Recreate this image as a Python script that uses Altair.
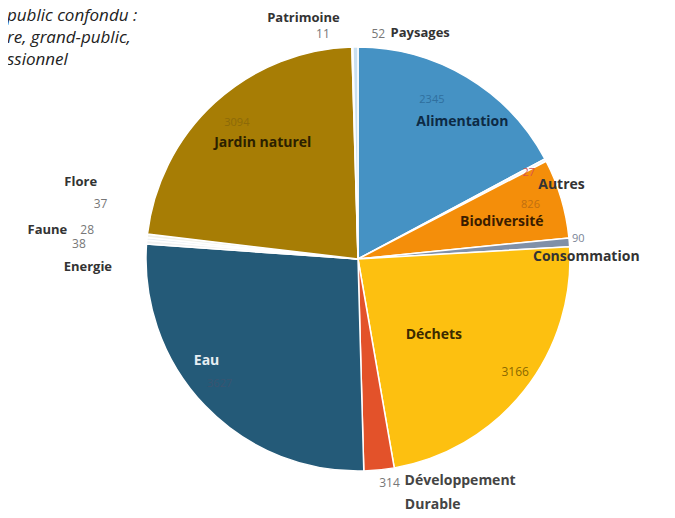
import math
import altair as alt
import pandas as pd

# ---- data ----
categories = ["Alimentation", "Autres", "Biodiversité", "Consommation", "Déchets",
              "Développement Durable", "Eau", "Energie", "Faune", "Flore",
              "Jardin naturel", "Patrimoine", "Paysages"]
values = [2345, 27, 826, 90, 3166, 314, 3627, 38, 28, 37, 3094, 11, 52]
slice_colors = ["#4592c4", "#eef3f8", "#f48e0a", "#8090a8", "#fdc010",
                "#e3522a", "#245a78", "#f2f2f2", "#e9eef3", "#f1f1ea",
                "#a77d05", "#f4f6f8", "#c9dff0"]
title_lines = ["public confondu :", "re, grand-public,", "ssionnel"]

df = pd.DataFrame({"cat": categories, "value": values, "idx": list(range(len(values)))})
total = sum(values)

CX, CY, R = 350, 251, 212
FONT = "Open Sans"

theta_scale = alt.Scale(domain=[0, total], range=[0, 2 * math.pi])

base = (alt.Chart(df)
        .transform_window(cum="sum(value)", sort=[alt.SortField("idx")])
        .transform_calculate(start="datum.cum - datum.value",
                             mid="datum.cum - datum.value / 2"))

arcs = base.mark_arc(outerRadius=R, stroke="white", strokeWidth=1.5).encode(
    theta=alt.Theta("start:Q", scale=theta_scale, stack=False),
    theta2="cum:Q",
    color=alt.Color("cat:N", scale=alt.Scale(domain=categories, range=slice_colors), legend=None),
    order=alt.Order("idx:Q"),
    x=alt.value(CX), y=alt.value(CY),
)

# label layout: (category, text expression, radius, dx, dy, align, color, size, weight)
NAME, VAL = "datum.cat", "'' + datum.value"
labels = [
    ("Jardin naturel", NAME, 150, 6, -5, "center", "#2b2000", 14, "bold"),
    ("Jardin naturel", VAL, 181, 1, -2, "center", "#8c6a08", 11, "normal"),
    ("Alimentation", NAME, 172, 16, 11, "center", "#0d2a45", 14, "bold"),
    ("Alimentation", VAL, 175, -16, -9, "center", "#2f6f9e", 11, "normal"),
    ("Autres", NAME, 212, 16, 25, "center", "#333333", 14, "bold"),
    ("Autres", VAL, 193, 0, 4, "center", "#d9534f", 11, "normal"),
    ("Biodiversité", NAME, 149, 1, 6, "center", "#3a1c00", 14, "bold"),
    ("Biodiversité", VAL, 180, 0, -3, "center", "#c06f10", 11, "normal"),
    ("Consommation", NAME, 228, 1, 16, "center", "#333333", 14, "bold"),
    ("Consommation", VAL, 221, 0, -3, "center", "#7a8496", 11, "normal"),
    ("Déchets", NAME, 107, -8, 10, "center", "#3b2a00", 14, "bold"),
    ("Déchets", VAL, 193, 6, -7, "center", "#8a6800", 12, "normal"),
    ("Développement Durable", "split(datum.cat, ' ')[0]", 227, 24, -4, "left", "#444444", 14, "bold"),
    ("Développement Durable", "split(datum.cat, ' ')[1]", 250, 22, -3, "left", "#444444", 14, "bold"),
    ("Développement Durable", VAL, 226, 9, -1, "center", "#777777", 12, "normal"),
    ("Eau", NAME, 182, -20, -24, "center", "#e6eef3", 14, "bold"),
    ("Eau", VAL, 186, -4, -4, "center", "#3a5470", 11, "normal"),
    ("Energie", NAME, 270, -1, 29, "center", "#333333", 13, "bold"),
    ("Energie", VAL, 279, -1, 7, "center", "#777777", 12, "normal"),
    ("Faune", NAME, 312, 0, 0, "center", "#333333", 13, "bold"),
    ("Faune", VAL, 273, 1, -3, "center", "#777777", 12, "normal"),
    ("Flore", NAME, 287, 8, -46, "center", "#333333", 13, "bold"),
    ("Flore", VAL, 263, 4, -26, "center", "#777777", 12, "normal"),
    ("Patrimoine", NAME, 249, -48, 8, "center", "#333333", 13, "bold"),
    ("Patrimoine", VAL, 229, -29, 4, "center", "#777777", 12, "normal"),
    ("Paysages", NAME, 234, 65, 8, "center", "#333333", 13, "bold"),
    ("Paysages", VAL, 226, 23, 1, "center", "#777777", 12, "normal"),
]

text_layers = []
for cat, expr, r, dx, dy, align, color, size, weight in labels:
    text_layers.append(
        base.transform_filter(alt.datum.cat == cat)
        .transform_calculate(lbl=expr)
        .mark_text(radius=r, dx=dx, dy=dy, align=align, baseline="middle",
                   font=FONT, fontSize=size, fontWeight=weight, color=color)
        .encode(theta=alt.Theta("mid:Q", scale=theta_scale, stack=False),
                text="lbl:N", x=alt.value(CX), y=alt.value(CY))
    )

title_df = pd.DataFrame({"line": title_lines})
title_layers = []
for i, ypos in enumerate([8, 30, 52]):
    title_layers.append(
        alt.Chart(title_df).transform_filter(alt.datum.line == title_lines[i])
        .mark_text(align="left", baseline="middle", font=FONT, fontSize=17,
                   fontStyle="italic", color="#222222")
        .encode(text="line:N", x=alt.value(-1), y=alt.value(ypos))
    )

chart = (alt.layer(arcs, *text_layers, *title_layers)
         .properties(width=659, height=510, padding=0,
                     autosize=alt.AutoSizeParams(type="none"))
         .configure_view(stroke=None))

chart.save("out.html", embed_options={"renderer": "svg", "actions": False})
